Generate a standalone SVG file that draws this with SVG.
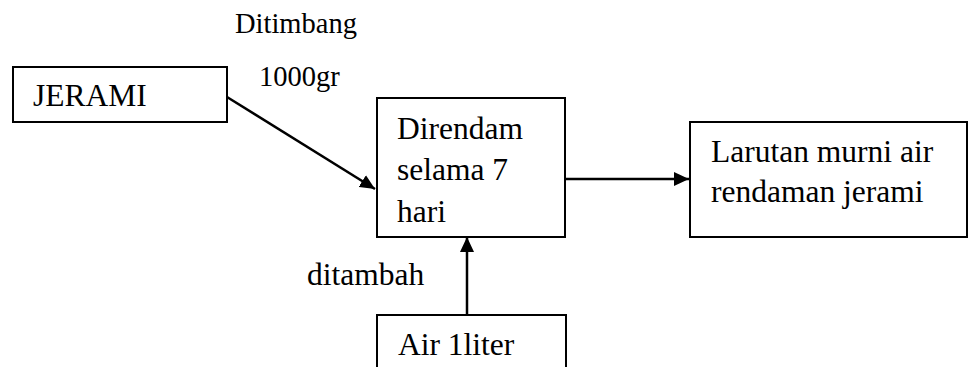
<svg xmlns="http://www.w3.org/2000/svg" width="968" height="367" viewBox="0 0 968 367">
<style>
.box{fill:#fff;stroke:#000;stroke-width:2}
.t{font-family:"Liberation Serif","Times New Roman",serif;font-size:31.5px;fill:#000}
.s{font-family:"Liberation Serif","Times New Roman",serif;font-size:28.5px;fill:#000}
.c{stroke:#000;stroke-width:2.5;fill:none}
</style>
<defs>
<marker id="ah" markerUnits="userSpaceOnUse" markerWidth="16" markerHeight="14" refX="15" refY="7" orient="auto">
<path d="M0,0 L15,7 L0,14 Z" fill="#000"/>
</marker>
</defs>
<rect width="968" height="367" fill="#fff"/>
<g id="connectors">
<line class="c" x1="227" y1="97" x2="375" y2="189" marker-end="url(#ah)"/>
<line class="c" x1="566" y1="179" x2="689" y2="179" marker-end="url(#ah)"/>
<line class="c" x1="467" y1="315" x2="467" y2="237" marker-end="url(#ah)"/>
</g>
<g id="jerami">
<rect class="box" x="13" y="67" width="214" height="55"/>
<text class="t" x="33" y="106">JERAMI</text>
</g>
<g id="direndam">
<rect class="box" x="377" y="98" width="188" height="139"/>
<text class="t" x="397" y="139">Direndam</text>
<text class="t" x="397" y="180">selama 7</text>
<text class="t" x="397" y="222">hari</text>
</g>
<g id="larutan">
<rect class="box" x="690" y="122" width="277" height="115"/>
<text class="t" x="711" y="162">Larutan murni air</text>
<text class="t" x="711" y="202">rendaman jerami</text>
</g>
<g id="air">
<rect class="box" x="377" y="315" width="189" height="60"/>
<text class="t" x="398" y="355">Air 1liter</text>
</g>
<g id="labels">
<text class="s" x="235" y="33">Ditimbang</text>
<text class="s" x="259" y="86">1000gr</text>
<text class="t" x="307" y="285">ditambah</text>
</g>
</svg>
